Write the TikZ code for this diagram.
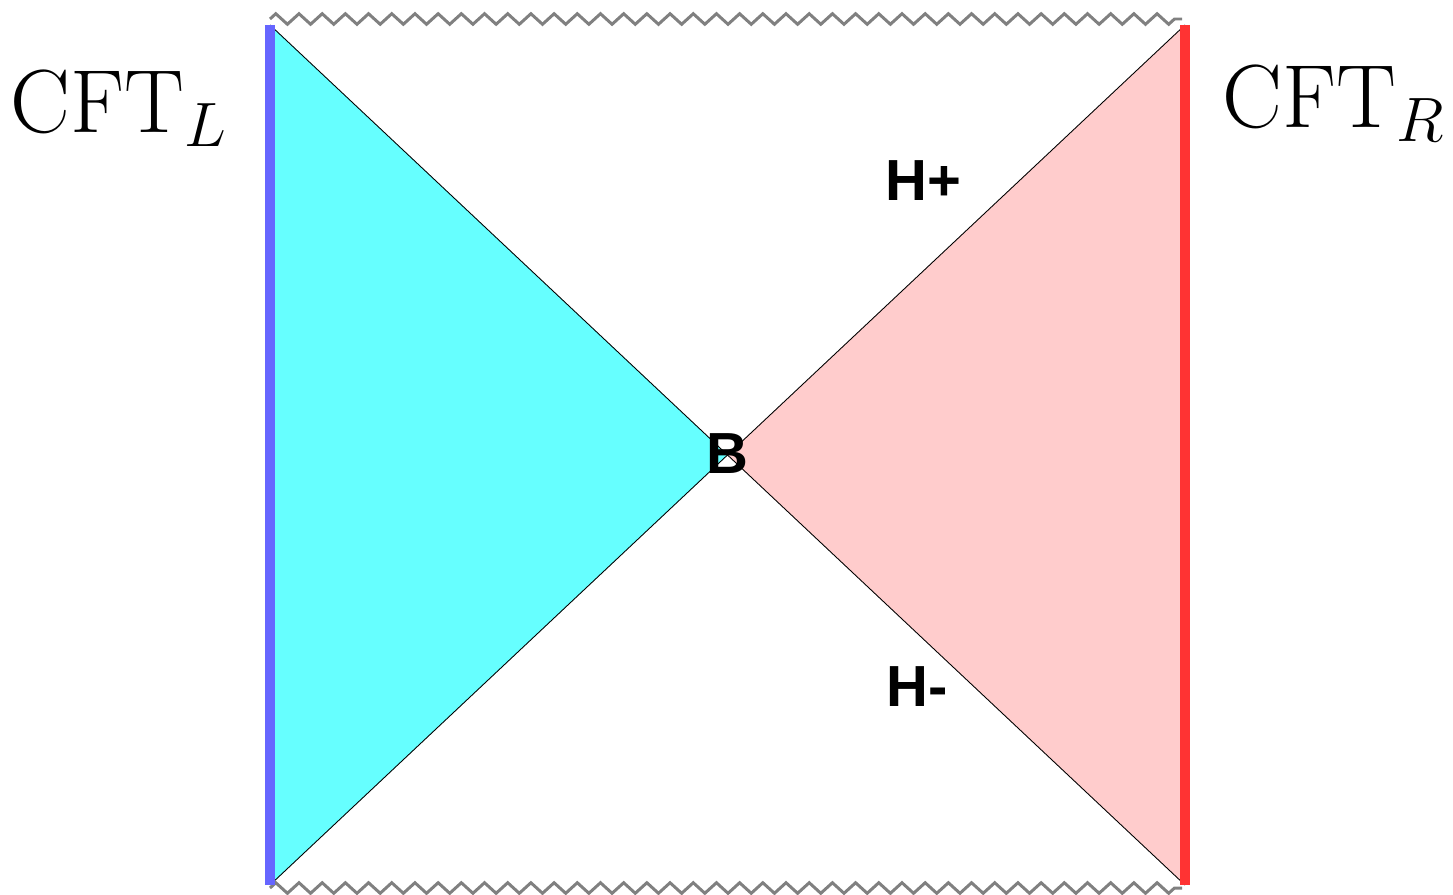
\documentclass[tikz,border=0pt]{standalone}
\usepackage{fix-cm}
\usepackage{fontspec}
\newfontfamily\labelfont{Liberation Sans}
\usetikzlibrary{decorations.pathmorphing}
\definecolor{wedgeL}{HTML}{66FFFF}
\definecolor{wedgeR}{HTML}{FFCCCC}
\definecolor{bdryL}{HTML}{6666FF}
\definecolor{bdryR}{HTML}{FF3333}
\definecolor{singgray}{HTML}{808080}

\begin{document}
\begin{tikzpicture}[x=0.02cm, y=-0.02cm,
    sing/.style={draw=singgray, line width=1.7pt, decorate,
                 decoration={zigzag, segment length=13.2pt, amplitude=3pt}},
    horizon/.style={draw=black, line width=0.5pt},
    bdry/.style={line width=5.5pt},
    cftlabel/.style={font=\fontsize{51}{60}\selectfont, inner sep=0pt, anchor=base west},
    ptlabel/.style={font=\labelfont\bfseries\fontsize{33}{40}\selectfont, inner sep=0pt}]
    \useasboundingbox (0,0) rectangle (1453,895);
    \def\xl{270}
    \def\xr{1185}
    \def\yt{25}
    \def\yb{885}

    % corners and bifurcation point
    \coordinate (TL) at (\xl,\yt);
    \coordinate (TR) at (\xr,\yt);
    \coordinate (BL) at (\xl,\yb);
    \coordinate (BR) at (\xr,\yb);
    \coordinate (M) at (727.5,455);

    % wedges
    \fill[wedgeL] (TL) -- (M) -- (BL) -- cycle;
    \fill[wedgeR] (TR) -- (M) -- (BR) -- cycle;

    % horizons
    \draw[horizon] (TL) -- (BR);
    \draw[horizon] (BL) -- (TR);

    % singularities
    \coordinate (ZTL) at (\xl,19);
    \coordinate (ZTR) at (1182,19);
    \coordinate (ZBL) at (\xl,888);
    \coordinate (ZBR) at (1182,888);
    \draw[sing] (ZTL) -- (ZTR);
    \draw[sing] (ZBL) -- (ZBR);

    % boundaries
    \draw[bdry, bdryL] (TL) -- (BL);
    \draw[bdry, bdryR] (TR) -- (BR);

    % labels
    \node[cftlabel] (cftL) at (10,133) {$\mathrm{CFT}_L$};
    \node[cftlabel] (cftR) at (1222,128) {$\mathrm{CFT}_R$};
    \node[ptlabel] (hplus) at (923,181) {H+};
    \node[ptlabel] (hminus) at (917,687) {H-};
    \node[ptlabel] (bif) at (727,454) {B};
\end{tikzpicture}
\end{document}
